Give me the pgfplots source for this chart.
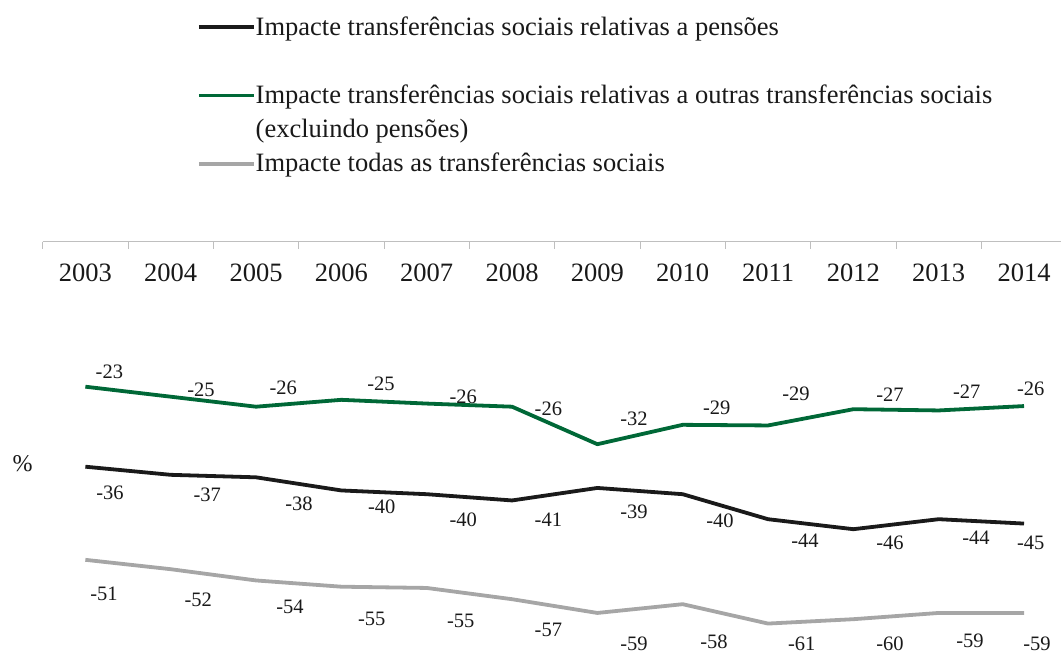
\documentclass[border=0pt]{standalone}
\usepackage{pgfplots}
\pgfplotsset{compat=1.18}
\usepackage{pgfplotstable}
\usepackage{fontspec}
\setmainfont{Liberation Serif}

\definecolor{pgreen}{RGB}{0,104,55}
\definecolor{pgray}{RGB}{166,166,166}
\definecolor{pblack}{RGB}{26,26,26}

% x = year index (2003 = 0), y = value, lbl = shown label, dx/dy = label offset
\pgfplotstableread{
x y lbl dx dy
0 -23.2 -23 24.0 15.0
1 -24.8 -25 30.3 6.7
2 -26.4 -26 27.3 19.0
3 -25.3 -25 39.7 16.5
4 -25.9 -26 36.6 6.3
5 -26.4 -26 36.3 -2.3
6 -32.4 -32 36.7 25.2
7 -29.3 -29 34.0 16.8
8 -29.4 -29 28.0 31.2
9 -26.8 -27 36.7 14.9
10 -27.0 -27 28.0 18.8
11 -26.3 -26 6.7 16.8
}\outras

\pgfplotstableread{
x y lbl dx dy
0 -36.0 -36 24.7 -26.6
1 -37.3 -37 36.6 -20.2
2 -37.7 -38 43.0 -26.0
3 -39.8 -40 40.4 -16.8
4 -40.4 -40 36.6 -25.1
5 -41.4 -41 36.3 -19.5
6 -39.4 -39 36.7 -23.7
7 -40.4 -40 37.3 -26.8
8 -44.4 -44 37.0 -21.8
9 -46.0 -46 36.7 -14.1
10 -44.4 -44 37.3 -18.5
11 -45.1 -45 6.7 -19.7
}\pensoes

\pgfplotstableread{
x y lbl dx dy
0 -50.9 -51 18.7 -34.5
1 -52.4 -52 27.6 -30.8
2 -54.2 -54 34.0 -26.2
3 -55.2 -55 30.4 -32.6
4 -55.4 -55 34.0 -33.0
5 -57.2 -57 36.3 -30.8
6 -59.4 -59 36.7 -31.0
7 -58.0 -58 31.3 -37.3
8 -61.1 -61 33.7 -20.4
9 -60.4 -60 36.7 -24.1
10 -59.4 -59 31.3 -27.7
11 -59.4 -59 13.0 -31.0
}\todas

\pgfplotsset{
  lbls/.style={
    nodes near coords,
    point meta=explicit symbolic,
    visualization depends on={\thisrow{dx}\as\dx},
    visualization depends on={\thisrow{dy}\as\dy},
    nodes near coords style={font=\fontsize{20.5}{24}\selectfont, text=black!90,
      anchor=center, inner sep=0pt, xshift=\dx pt, yshift=\dy pt},
  },
  serie/.style={line width=3.8pt, line join=round, no markers, #1},
}

\begin{document}
\begin{tikzpicture}
\begin{axis}[
    scale only axis,
    width=1024pt, height=406.25pt,
    xmin=-0.5, xmax=11.5,
    ymin=-65, ymax=0,
    clip=false,
    axis x line=top,
    axis y line=left,
    x axis line style={-, draw=gray!50, line width=1pt},
    y axis line style={draw=none},
    ytick=\empty,
    xtick={0,...,11},
    xticklabels={2003,2004,2005,2006,2007,2008,2009,2010,2011,2012,2013,2014},
    minor xtick={-0.5,0.5,...,11.5},
    tick align=inside,
    major tick length=0pt,
    minor tick length=7pt,
    every minor tick/.append style={draw=gray!50, line width=1pt},
    xticklabel style={anchor=north, inner sep=0pt, yshift=-21.6pt,
      font=\fontsize{26.5}{31}\selectfont, text=black!90},
    ylabel={\%},
    ylabel style={rotate=-90, at={(axis description cs:-0.0195,0.4528)},
      anchor=center, font=\fontsize{24}{28}\selectfont, text=black!90},
    legend cell align=left,
    legend image code/.code={\draw[#1, line cap=butt] (0pt,0pt) -- (55pt,0pt);},
    legend style={
      at={(axis description cs:0.1507,1.5597)}, anchor=north west,
      draw=none, fill=none, inner sep=0pt, row sep=9.2pt, column sep=0pt,
      font=\fontsize{26.5}{31}\selectfont, text=black!90,
      nodes={inner sep=0pt, text height=20.5pt, text depth=4.5pt},
    },
]
\coordinate (tl) at (rel axis cs:0,1);

\addplot[serie=pgreen, lbls, forget plot] table[x=x, y=y, meta=lbl] {\outras};
\addplot[serie=pblack, lbls, forget plot] table[x=x, y=y, meta=lbl] {\pensoes};
\addplot[serie=pgray, lbls, forget plot] table[x=x, y=y, meta=lbl] {\todas};

\addlegendimage{pblack, line width=3.5pt}
\addlegendentry{Impacte transferências sociais relativas a pensões}
\addlegendimage{empty legend}
\addlegendentry{}
\addlegendimage{pgreen, line width=3.5pt}
\addlegendentry{Impacte transferências sociais relativas a outras transferências sociais}
\addlegendimage{empty legend}
\addlegendentry{(excluindo pensões)}
\addlegendimage{pgray, line width=3.5pt}
\addlegendentry{Impacte todas as transferências sociais}
\end{axis}
\pgfresetboundingbox
\path[use as bounding box] ([shift={(-42.7pt,241.7pt)}]tl) rectangle ([shift={(1018.3pt,-412.3pt)}]tl);
\end{tikzpicture}
\end{document}
